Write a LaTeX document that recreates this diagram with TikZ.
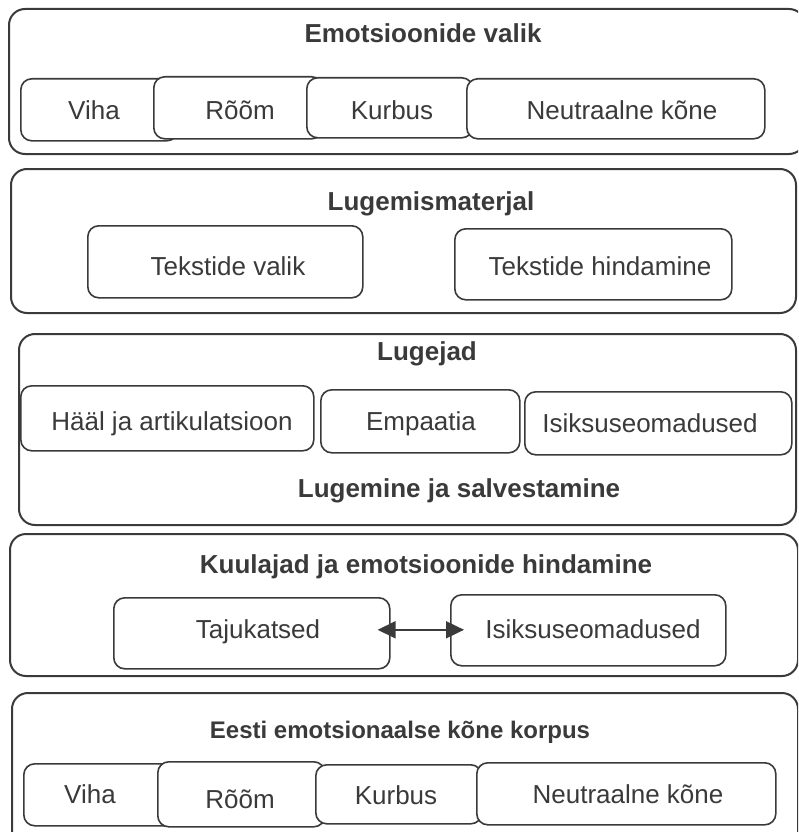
\documentclass[tikz,border=0pt]{standalone}
\usepackage{fontspec}
\setmainfont{Liberation Sans}
\usetikzlibrary{arrows.meta}
\definecolor{ink}{HTML}{3A3A3A}
\begin{document}
\begin{tikzpicture}[x=1pt,y=-1pt,
  outerbox/.style={draw=ink, line width=2pt, rounded corners=16pt, anchor=north west, inner sep=0pt},
  innerbox/.style={draw=ink, fill=white, line width=1.6pt, rounded corners=11pt, anchor=north west, inner sep=0pt},
  lbl/.style={text=ink, font=\fontsize{26}{30}\selectfont, inner sep=0pt, anchor=base},
  ttl/.style={lbl, font=\bfseries\fontsize{26}{30}\selectfont},
  ttlsmall/.style={lbl, font=\bfseries\fontsize{24}{28}\selectfont},
  arrowline/.style={draw=ink, line width=1.8pt, {Triangle[length=18pt,width=17pt]}-{Triangle[length=18pt,width=17pt]}}
]
\useasboundingbox (0,0) rectangle (798,832);
\clip (0,0) rectangle (798,832);

% ---------- Box 1 ----------
\node[outerbox, minimum width=796pt, minimum height=145pt] (b1) at (8,8) {};
\node[ttl] (t1) at (423,43) {Emotsioonide valik};
\node[innerbox, minimum width=157pt, minimum height=62pt] (v1) at (20,78) {};
\node[innerbox, minimum width=169pt, minimum height=62pt] (r1) at (153,76) {};
\node[innerbox, minimum width=166pt, minimum height=60pt] (k1) at (306,77) {};
\node[innerbox, minimum width=298pt, minimum height=60pt] (n1) at (466,78) {};
\node[lbl] (v1t) at (94,120) {Viha};
\node[lbl] (r1t) at (240,120) {Rõõm};
\node[lbl] (k1t) at (392,120) {Kurbus};
\node[lbl] (n1t) at (622,120) {Neutraalne kõne};

% ---------- Box 2 ----------
\node[outerbox, minimum width=785pt, minimum height=144pt] (b2) at (10,168) {};
\node[ttl] (t2) at (431,210) {Lugemismaterjal};
\node[innerbox, minimum width=275pt, minimum height=72pt] (tv) at (87,225) {};
\node[innerbox, minimum width=277pt, minimum height=71pt] (th) at (454,228) {};
\node[lbl] (tvt) at (228,275) {Tekstide valik};
\node[lbl] (tht) at (600,275) {Tekstide hindamine};

% ---------- Box 3 ----------
\node[outerbox, minimum width=777pt, minimum height=191pt] (b3) at (18,333) {};
\node[ttl] (t3) at (427,360) {Lugejad};
\node[innerbox, minimum width=293pt, minimum height=65pt] (ha) at (20,385) {};
\node[innerbox, minimum width=199pt, minimum height=63pt] (em) at (320,389) {};
\node[innerbox, minimum width=267pt, minimum height=63pt] (is3) at (524,391) {};
\node[lbl] (hat) at (172,430) {Hääl ja artikulatsioon};
\node[lbl] (emt) at (421,430) {Empaatia};
\node[lbl] (is3t) at (650,432) {Isiksuseomadused};
\node[ttl] (t3b) at (459,497) {Lugemine ja salvestamine};

% ---------- Box 4 ----------
\node[outerbox, minimum width=788pt, minimum height=142pt] (b4) at (9,533) {};
\node[ttl] (t4) at (426,573) {Kuulajad ja emotsioonide hindamine};
\node[innerbox, minimum width=276pt, minimum height=71pt] (taju) at (113,597) {};
\node[innerbox, minimum width=275pt, minimum height=71pt] (is4) at (450,594) {};
\node[lbl] (tajut) at (258,638) {Tajukatsed};
\node[lbl] (is4t) at (593,638) {Isiksuseomadused};
\draw[arrowline] ([xshift=-13pt,yshift=3.5pt]taju.east) -- ([xshift=14pt,yshift=0.5pt]is4.west);

% ---------- Box 5 ----------
\node[outerbox, minimum width=786pt, minimum height=160pt] (b5) at (11,692) {};
\node[ttlsmall] (t5) at (400,738) {Eesti emotsionaalse kõne korpus};
\node[innerbox, minimum width=157pt, minimum height=62pt] (v5) at (23,763) {};
\node[innerbox, minimum width=167pt, minimum height=65pt] (r5) at (157,761) {};
\node[innerbox, minimum width=166pt, minimum height=59pt] (k5) at (315,764) {};
\node[innerbox, minimum width=299pt, minimum height=62pt] (n5) at (476,762) {};
\node[lbl] (v5t) at (90,803) {Viha};
\node[lbl] (r5t) at (240,808) {Rõõm};
\node[lbl] (k5t) at (396,804) {Kurbus};
\node[lbl] (n5t) at (628,803) {Neutraalne kõne};
\end{tikzpicture}
\end{document}
